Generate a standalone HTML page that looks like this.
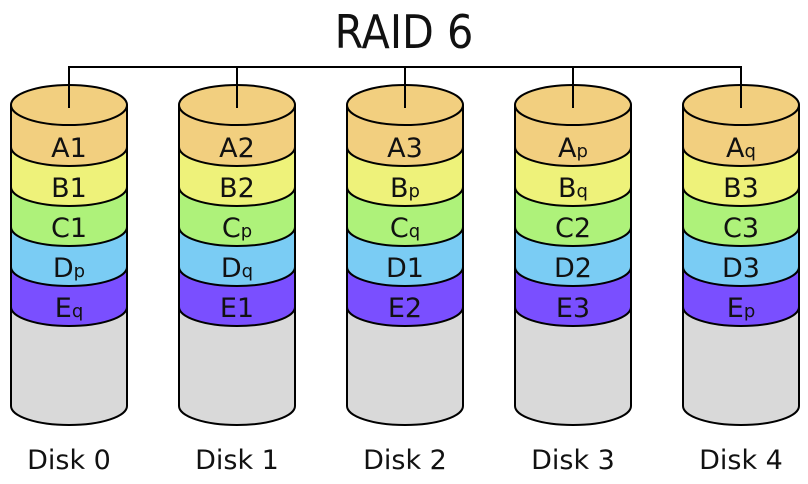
<!DOCTYPE html>
<html><head><meta charset="utf-8"><style>
html,body{margin:0;padding:0;background:#fff;}
svg{display:block;}
text{font-family:"DejaVu Sans","Liberation Sans",sans-serif;fill:#111;}
text.t{font-family:"DejaVu Sans Condensed","Liberation Sans Narrow","Liberation Sans",sans-serif;font-size:46px;}
text.l{font-size:27px;}
text.l tspan{font-size:18px;}
</style></head><body>
<svg width="808" height="484" viewBox="0 0 808 484" xmlns="http://www.w3.org/2000/svg">
<defs>
<g id="disk" stroke="#000" stroke-width="2" stroke-linejoin="round">
<path d="M0,307 V406 A58,19 0 0 0 116,406 V307 Z" fill="#d9d9d9"/>
<path d="M0,267 V307 A58,19 0 0 0 116,307 V267 Z" fill="#7a4fff"/>
<path d="M0,227 V267 A58,19 0 0 0 116,267 V227 Z" fill="#7accf4"/>
<path d="M0,187 V227 A58,19 0 0 0 116,227 V187 Z" fill="#aef27a"/>
<path d="M0,147 V187 A58,19 0 0 0 116,187 V147 Z" fill="#eef27a"/>
<path d="M0,105 V147 A58,19 0 0 0 116,147 V105 Z" fill="#f2cf7f"/>
<ellipse cx="58" cy="105" rx="58" ry="20" fill="#f2cf7f"/>
</g>
</defs>
<text class="t" x="404" y="48" text-anchor="middle">RAID 6</text>
<path d="M69,108 V67 H741 V108 M237,67 V108 M405,67 V108 M573,67 V108" stroke="#000" stroke-width="2" fill="none"/>
<use href="#disk" x="11" y="0"/>
<use href="#disk" x="179" y="0"/>
<use href="#disk" x="347" y="0"/>
<use href="#disk" x="515" y="0"/>
<use href="#disk" x="683" y="0"/>
<path d="M69,86 V108 M237,86 V108 M405,86 V108 M573,86 V108 M741,86 V108" stroke="#000" stroke-width="2"/>
<g text-anchor="middle">
<text class="l" x="69" y="157">A1</text><text class="l" x="69" y="197">B1</text><text class="l" x="69" y="237">C1</text>
<text class="l" x="69" y="277">D<tspan>p</tspan></text><text class="l" x="69" y="317">E<tspan>q</tspan></text>
<text class="l" x="237" y="157">A2</text><text class="l" x="237" y="197">B2</text><text class="l" x="237" y="237">C<tspan>p</tspan></text>
<text class="l" x="237" y="277">D<tspan>q</tspan></text><text class="l" x="237" y="317">E1</text>
<text class="l" x="405" y="157">A3</text><text class="l" x="405" y="197">B<tspan>p</tspan></text><text class="l" x="405" y="237">C<tspan>q</tspan></text>
<text class="l" x="405" y="277">D1</text><text class="l" x="405" y="317">E2</text>
<text class="l" x="573" y="157">A<tspan>p</tspan></text><text class="l" x="573" y="197">B<tspan>q</tspan></text><text class="l" x="573" y="237">C2</text>
<text class="l" x="573" y="277">D2</text><text class="l" x="573" y="317">E3</text>
<text class="l" x="741" y="157">A<tspan>q</tspan></text><text class="l" x="741" y="197">B3</text><text class="l" x="741" y="237">C3</text>
<text class="l" x="741" y="277">D3</text><text class="l" x="741" y="317">E<tspan>p</tspan></text>
</g>
<g text-anchor="middle">
<text class="l" x="69" y="469">Disk 0</text><text class="l" x="237" y="469">Disk 1</text><text class="l" x="405" y="469">Disk 2</text>
<text class="l" x="573" y="469">Disk 3</text><text class="l" x="741" y="469">Disk 4</text>
</g>
</svg>
</body></html>
